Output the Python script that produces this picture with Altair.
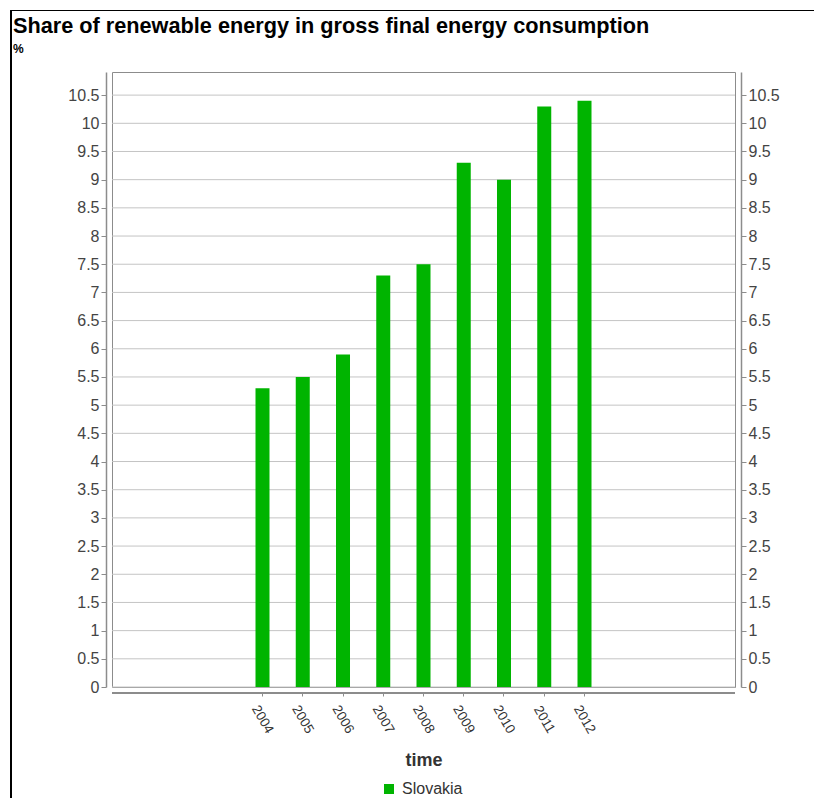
import altair as alt
import pandas as pd

years = ["2004", "2005", "2006", "2007", "2008", "2009", "2010", "2011", "2012"]
values = [5.3, 5.5, 5.9, 7.3, 7.5, 9.3, 9.0, 10.3, 10.4]
country = ["Slovakia"] * len(years)
y_ticks = [i * 0.5 for i in range(22)]

df = pd.DataFrame({"time": years, "value": values, "geo": country})
grid_df = pd.DataFrame({"tick": y_ticks})

FONT = "Liberation Sans"
GRAY = "#8c8c8c"
LABEL = "#444444"

yscale = alt.Scale(domain=[0, 10.91], nice=False, zero=True)
xscale = alt.Scale(paddingInner=0.652, paddingOuter=0, range=[143.5, 479.5])

x_axis = alt.Axis(
    title="time",
    labelAngle=60,
    labelAlign="center",
    labelBaseline="middle",
    labelPadding=23,
    labelFontSize=13.5,
    labelColor="#333333",
    labelFont=FONT,
    tickSize=3,
    tickColor=GRAY,
    domain=False,
    offset=6,
    titleFont=FONT,
    titleFontSize=18,
    titleFontWeight="bold",
    titleColor="#333333",
    titlePadding=16,
    titleX=311.5,
    grid=False,
)

def y_axis(orient):
    return alt.Axis(
        title=None,
        values=y_ticks,
        format="~g",
        orient=orient,
        offset=6,
        tickSize=5,
        tickColor=GRAY,
        domainColor=GRAY,
        domainWidth=1.5,
        labelPadding=2,
        labelFontSize=16,
        labelColor=LABEL,
        labelFont=FONT,
        grid=False,
    )

grid = alt.Chart(grid_df).mark_rule(color="#c4c4c4", strokeWidth=1).encode(
    y=alt.Y("tick:Q", scale=yscale, axis=y_axis("left")),
    x=alt.value(0),
    x2=alt.value(623),
)

bars = alt.Chart(df).mark_bar().encode(
    x=alt.X("time:N", scale=xscale, sort=years, axis=x_axis),
    y=alt.Y("value:Q", scale=yscale, axis=y_axis("left")),
    color=alt.Color(
        "geo:N",
        scale=alt.Scale(range=["#00b400"]),
        legend=alt.Legend(
            title=None,
            orient="none",
            legendX=269,
            legendY=709,
            symbolType="square",
            symbolSize=100,
            symbolStrokeWidth=0,
            labelFontSize=16,
            labelFont=FONT,
            labelColor="#333333",
            labelOffset=5,
            padding=0,
        ),
    ),
)

left = alt.layer(grid, bars)

bars_right = alt.Chart(df).mark_bar(opacity=0).encode(
    x=alt.X("time:N", scale=xscale, sort=years, axis=x_axis),
    y=alt.Y("value:Q", scale=yscale, axis=y_axis("right")),
)

x_axis_line = alt.Chart(df).mark_rule(color=GRAY, strokeWidth=1.5).encode(
    x=alt.value(0), x2=alt.value(623), y=alt.value(621)
)
frame_top = alt.Chart(df).mark_rule(color="black", strokeWidth=1.2).encode(
    x=alt.value(-101), x2=alt.value(720), y=alt.value(-61.5)
)
frame_left = alt.Chart(df).mark_rule(color="black", strokeWidth=1.2).encode(
    x=alt.value(-101), y=alt.value(-61.5), y2=alt.value(760)
)

chart = (
    alt.layer(left, bars_right, x_axis_line, frame_top, frame_left)
    .resolve_scale(y="independent")
    .properties(
        width=623,
        height=615,
        autosize=alt.AutoSizeParams(type="none"),
        padding={"left": 104, "top": 64, "right": 79, "bottom": 130},
        title=alt.TitleParams(
            text="Share of renewable energy in gross final energy consumption",
            subtitle="%",
            anchor="start",
            frame="group",
            dx=-99,
            dy=49,
            font=FONT,
            fontSize=21.7,
            fontWeight="bold",
            color="black",
            subtitleFont=FONT,
            subtitleFontSize=12,
            subtitleFontWeight="bold",
            subtitleColor="black",
            subtitlePadding=6,
            offset=4,
        ),
    )
    .configure_view(stroke=GRAY, strokeWidth=1)
)

chart.save("out.html", embed_options={"renderer": "svg", "actions": False})
